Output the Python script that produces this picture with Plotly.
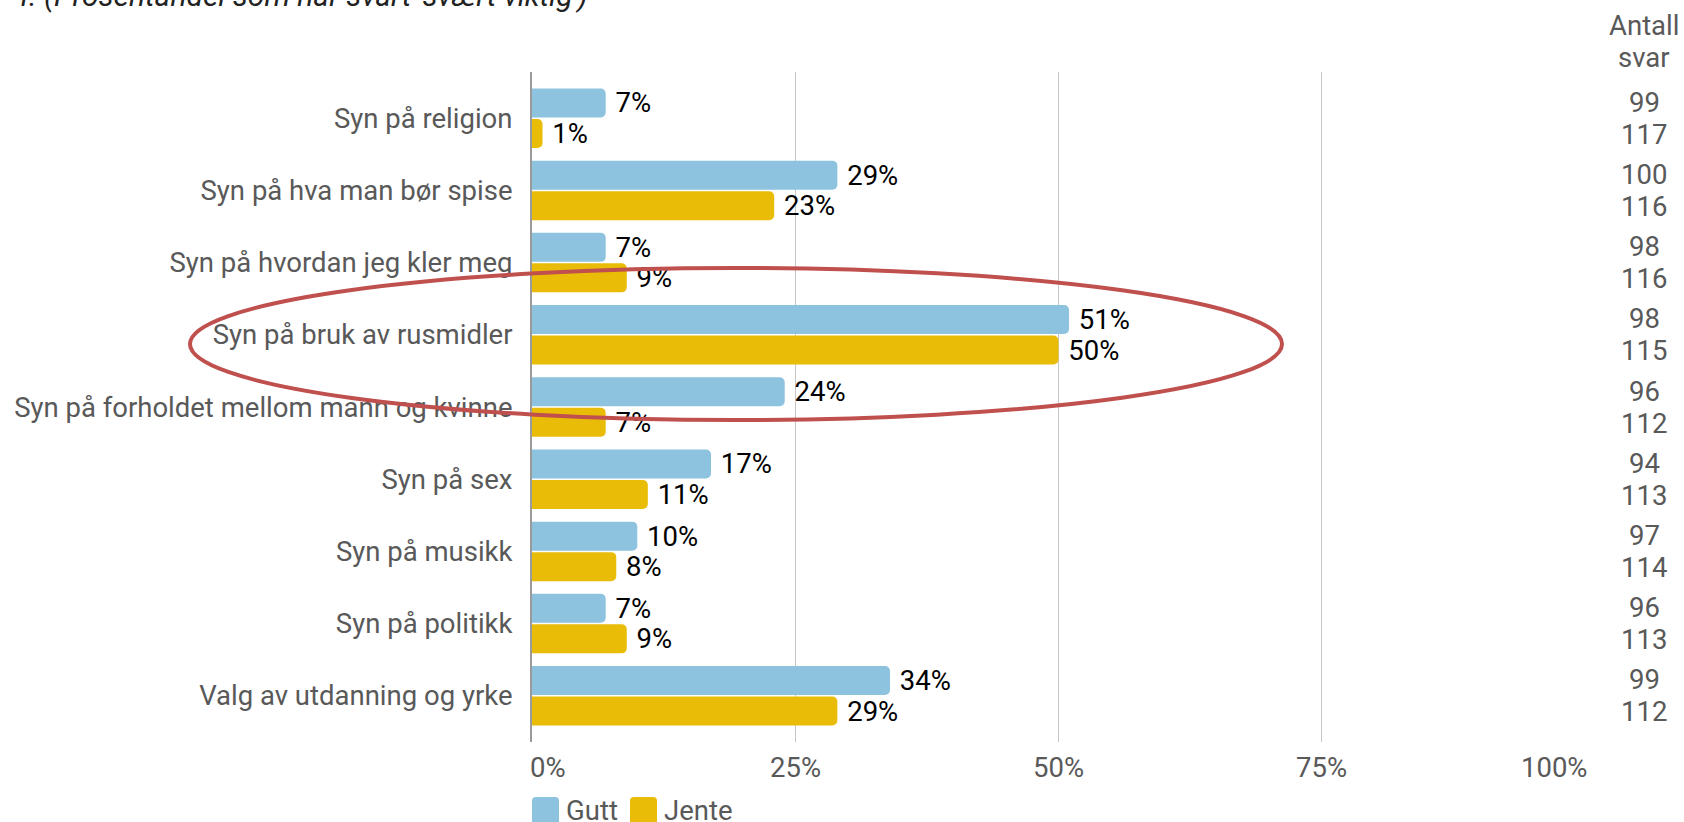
import plotly.graph_objects as go

# Survey answers: share who answered "svært viktig", by gender
categories = [
    "Syn på religion",
    "Syn på hva man bør spise",
    "Syn på hvordan jeg kler meg",
    "Syn på bruk av rusmidler",
    "Syn på forholdet mellom mann og kvinne",
    "Syn på sex",
    "Syn på musikk",
    "Syn på politikk",
    "Valg av utdanning og yrke",
]
gutt_pct = [7, 29, 7, 51, 24, 17, 10, 7, 34]
jente_pct = [1, 23, 9, 50, 7, 11, 8, 9, 29]
gutt_n = [99, 100, 98, 98, 96, 94, 97, 96, 99]
jente_n = [117, 116, 116, 115, 112, 113, 114, 113, 112]

tick_vals = [0, 25, 50, 75, 100]
tick_labels = ["0%", "25%", "50%", "75%", "100%"]

series_names = ["Gutt", "Jente"]
BLUE = "#8EC3DF"
YELLOW = "#E9BD07"
LABEL_GREY = "#595959"
FONT = "Roboto"
FS = 27.5

W, H = 1684, 822
ML, MR, MT, MB = 532, 99, 72, 80
PW, PH = W - ML - MR, H - MT - MB


def px_x(px):
    return (px - ML) / PW


def px_y(py):
    return (H - MB - py) / PH


fig = go.Figure()
for name, vals, color in [(series_names[0], gutt_pct, BLUE), (series_names[1], jente_pct, YELLOW)]:
    fig.add_trace(go.Bar(
        y=categories, x=vals, orientation="h", name=name,
        marker=dict(color=color, cornerradius=5, line=dict(width=0)),
        texttemplate="\u00a0%{x}%", textposition="outside", constraintext="none",
        textfont=dict(family=FONT, size=FS, color="#000000"),
        cliponaxis=False, showlegend=False,
    ))

# "Antall svar" column on the right
for cat, gn, jn in zip(categories, gutt_n, jente_n):
    for n, shift in [(gn, 16), (jn, -16)]:
        fig.add_annotation(x=px_x(1644), xref="paper", y=cat, yref="y", yshift=shift,
                           text=str(n), showarrow=False, xanchor="center", yanchor="middle",
                           font=dict(family=FONT, size=FS, color=LABEL_GREY))
for txt, py in [("Antall", 25), ("svar", 57)]:
    fig.add_annotation(x=px_x(1644), xref="paper", y=px_y(py), yref="paper", text=txt,
                       showarrow=False, xanchor="center", yanchor="middle",
                       font=dict(family=FONT, size=FS, color=LABEL_GREY))

# x tick labels: end labels kept inside the plot width
for v, lab in zip(tick_vals, tick_labels):
    anchor = "left" if v == tick_vals[0] else ("right" if v == tick_vals[-1] else "center")
    shift = -4 if v == tick_vals[0] else (5 if v == tick_vals[-1] else 0)
    fig.add_annotation(x=v, xref="x", y=px_y(767), yref="paper", text=lab, xshift=shift,
                       showarrow=False, xanchor=anchor, yanchor="middle",
                       font=dict(family=FONT, size=FS, color=LABEL_GREY))

# Title line at the very top (runs off the page edge)
fig.add_annotation(x=px_x(590), xref="paper", y=px_y(-5), yref="paper",
                   text="r. (Prosentandel som har svart 'svært viktig')",
                   showarrow=False, xanchor="right", yanchor="middle",
                   font=dict(family=FONT, size=30, color="#222222", style="italic"))

# Legend drawn as rounded swatches with labels
def rounded_rect(x0, y0, x1, y1, r):
    return (f"M{px_x(x0 + r)},{px_y(y0)} L{px_x(x1 - r)},{px_y(y0)} "
            f"Q{px_x(x1)},{px_y(y0)} {px_x(x1)},{px_y(y0 + r)} "
            f"L{px_x(x1)},{px_y(y1 - r)} Q{px_x(x1)},{px_y(y1)} {px_x(x1 - r)},{px_y(y1)} "
            f"L{px_x(x0 + r)},{px_y(y1)} Q{px_x(x0)},{px_y(y1)} {px_x(x0)},{px_y(y1 - r)} "
            f"L{px_x(x0)},{px_y(y0 + r)} Q{px_x(x0)},{px_y(y0)} {px_x(x0 + r)},{px_y(y0)} Z")


for (sx, tx), name, color in zip([(532, 564), (630, 662)], series_names, [BLUE, YELLOW]):
    fig.add_shape(type="path", xref="paper", yref="paper", path=rounded_rect(sx, 797, sx + 27, 826, 4),
                  fillcolor=color, line=dict(width=0), layer="above")
    fig.add_annotation(x=px_x(tx), xref="paper", y=px_y(810), yref="paper", text=name,
                       showarrow=False, xanchor="left", yanchor="middle",
                       font=dict(family=FONT, size=FS, color=LABEL_GREY))

# Highlight ring around "Syn på bruk av rusmidler"
fig.add_shape(type="circle", xref="paper", yref="paper",
              x0=px_x(190), x1=px_x(1282), y0=px_y(420), y1=px_y(268),
              line=dict(color="#C0504D", width=4), layer="above")

fig.update_layout(
    width=W, height=H,
    margin=dict(l=ML, r=MR, t=MT, b=MB, pad=0),
    paper_bgcolor="white", plot_bgcolor="white",
    barmode="group", bargap=0.155, bargroupgap=0.05,
    font=dict(family=FONT, size=FS, color=LABEL_GREY),
    xaxis=dict(range=[0, 100], tickvals=tick_vals, showticklabels=False,
               showgrid=True, gridcolor="#C6C6C6", gridwidth=1,
               zeroline=False, showline=False, fixedrange=True),
    yaxis=dict(categoryorder="array", categoryarray=categories, range=[8.64, -0.64],
               showline=True, linecolor="#9A9A9A", linewidth=2,
               ticks="", ticklabelstandoff=12, showgrid=False,
               tickfont=dict(family=FONT, size=FS, color=LABEL_GREY), fixedrange=True),
    showlegend=False,
)

fig.write_html("out.html")
